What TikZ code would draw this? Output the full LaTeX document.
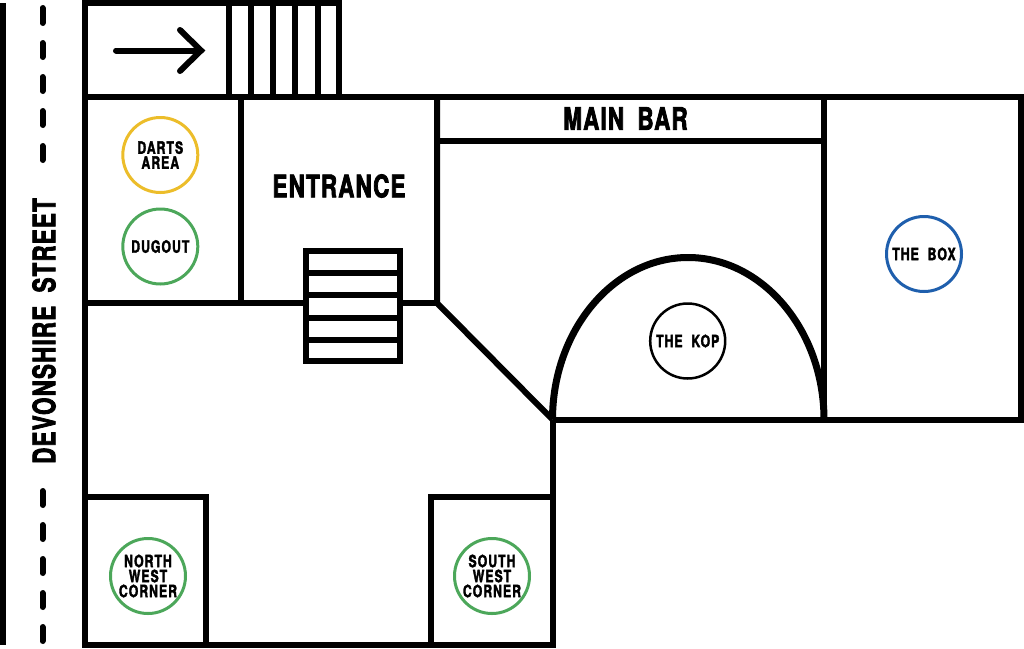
\documentclass[tikz,border=0pt]{standalone}
\usepackage{fontspec}
\setmainfont{TeX Gyre Heros}
\newfontfamily\signfont[FakeStretch=0.72,FakeBold=2,LetterSpace=6,WordSpace=2]{TeX Gyre Heros Bold}
\newfontfamily\bigsignfont[FakeStretch=0.72,FakeBold=2.5,LetterSpace=4,WordSpace=1.8]{TeX Gyre Heros Bold}
\begin{document}
\begin{tikzpicture}[x=1pt,y=-1pt,
  wall/.style={line width=6pt,line cap=butt,line join=miter},
  roomcircle/.style={circle,draw,line width=3pt,minimum size=75pt,inner sep=0pt},
  smalllabel/.style={align=center,font=\signfont\fontsize{17}{15}\selectfont,inner sep=0pt},
  biglabel/.style={font=\bigsignfont\fontsize{31}{31}\selectfont,inner sep=0pt}]
\useasboundingbox (0,0) rectangle (1024,648);
% street
\draw[line width=6pt] (2.5,3) -- (2.5,645);
\foreach \a/\b in {8/23,43/57,77/91,111/125,146/160,491/505,525/539,559/573,593/607,627/641}
  \draw[line width=6pt,line cap=round] (42.5,\a) -- (42.5,\b);
\node[biglabel,rotate=90] (street) at (44,331) {DEVONSHIRE STREET};
% outer and inner walls
\draw[wall] (84.5,96.5) -- (84.5,2.5) -- (338.5,2.5) -- (338.5,99);
\draw[wall] (228.5,2.5) -- (228.5,99);
\foreach \x in {250.5,273,295,317.5} \draw[wall] (\x,2.5) -- (\x,99);
\draw[wall] (84.5,96.5) -- (1021,96.5) -- (1021,419.5) -- (552.5,419.5);
\draw[wall] (84.5,96.5) -- (84.5,644.5) -- (552.5,644.5) -- (552.5,419.5);
\draw[wall] (240.5,96.5) -- (240.5,303);
\draw[wall] (437,96.5) -- (437,303) -- (552.5,419.5);
\draw[wall] (84.5,303) -- (305,303);
\draw[wall] (400,303) -- (437,303);
\draw[wall] (437,141) -- (824,141);
\draw[wall] (824,96.5) -- (824,419.5);
\draw[wall] (84.5,496.5) -- (205.5,496.5) -- (205.5,644.5);
\draw[wall] (552.5,496.5) -- (431,496.5) -- (431,644.5);
% stairs
\draw[wall] (305.5,250.5) rectangle (400,360.5);
\foreach \y in {272.5,295,317.5,339.5} \draw[wall] (305.5,\y) -- (400,\y);
% kop arc
\draw[line width=7pt] (552.5,419.5) .. controls (552.5,331) and (613,257.5) .. (688,257.5) .. controls (763,257.5) and (824,331) .. (824,419.5);
% arrow
\draw[line width=6pt,line cap=round,line join=miter] (116,50.5) -- (201,50.5);
\draw[line width=6pt,line cap=round,line join=miter] (180,30) -- (201,50.5) -- (180,71);
% circles
\node[roomcircle,draw={rgb,255:red,236;green,189;blue,42},smalllabel] (darts) at (160.3,155) {DARTS\\AREA};
\node[roomcircle,draw={rgb,255:red,76;green,167;blue,90},smalllabel] (dugout) at (160.3,246.5) {DUGOUT};
\node[roomcircle,draw={rgb,255:red,76;green,167;blue,90},smalllabel] (nw) at (148,576) {NORTH\\WEST\\CORNER};
\node[roomcircle,draw={rgb,255:red,76;green,167;blue,90},smalllabel] (sw) at (492,576) {SOUTH\\WEST\\CORNER};
\node[roomcircle,draw=black,line width=2.5pt,smalllabel] (kop) at (687.7,341) {THE KOP};
\node[roomcircle,draw={rgb,255:red,31;green,95;blue,173},smalllabel] (box) at (924,254) {THE BOX};
% labels
\node[biglabel] (entrance) at (339,186) {ENTRANCE};
\node[biglabel] (mainbar) at (625.5,118.5) {MAIN BAR};
\end{tikzpicture}
\end{document}
